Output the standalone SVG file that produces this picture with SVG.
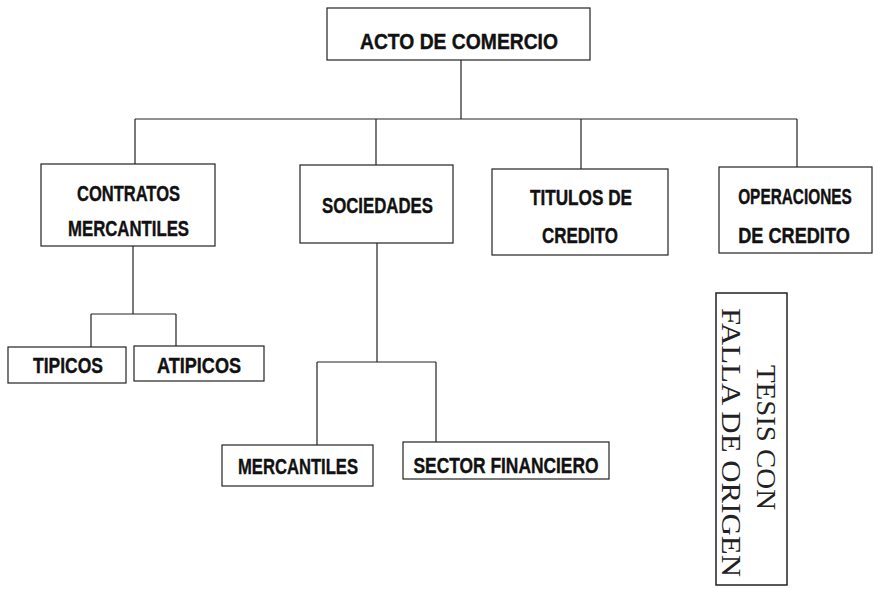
<svg xmlns="http://www.w3.org/2000/svg" width="877" height="589" viewBox="0 0 877 589">
<style>
.box{fill:#fff;stroke:#222;stroke-width:1.2}
.lbl{font-family:"Liberation Sans",Arial,sans-serif;font-weight:bold;font-size:22px;fill:#111;stroke:#111;stroke-width:0.4;text-anchor:middle}
.conn{fill:none;stroke:#222;stroke-width:1.2}
.stamp{font-family:"Liberation Serif","Times New Roman",serif;font-size:28px;fill:#222;text-anchor:middle}
</style>
<rect width="877" height="589" fill="#fff"/>
<g id="connectors">
<path class="conn" d="M461 60V119M135 119H797M135 119V164M376 119V165M581 119V169M797 119V167"/>
<path class="conn" d="M133 246V314M91 314H176M91 314V347M176 314V346"/>
<path class="conn" d="M377 243V362M317 362H436M317 362V445M436 362V442"/>
</g>
<g id="acto">
<rect class="box" x="327" y="8" width="263" height="52"/>
<text class="lbl" x="459" y="49" font-size="28" textLength="198" lengthAdjust="spacingAndGlyphs">ACTO DE COMERCIO</text>
</g>
<g id="contratos">
<rect class="box" x="41" y="164" width="174" height="82"/>
<text class="lbl" x="128.5" y="201" textLength="103" lengthAdjust="spacingAndGlyphs">CONTRATOS</text>
<text class="lbl" x="128.5" y="236" textLength="121" lengthAdjust="spacingAndGlyphs">MERCANTILES</text>
</g>
<g id="sociedades">
<rect class="box" x="300" y="165" width="153" height="78"/>
<text class="lbl" x="377.5" y="213" textLength="111" lengthAdjust="spacingAndGlyphs">SOCIEDADES</text>
</g>
<g id="titulos">
<rect class="box" x="492" y="169" width="176" height="86"/>
<text class="lbl" x="581" y="205" textLength="102" lengthAdjust="spacingAndGlyphs">TITULOS DE</text>
<text class="lbl" x="580" y="243" textLength="76" lengthAdjust="spacingAndGlyphs">CREDITO</text>
</g>
<g id="operaciones">
<rect class="box" x="719" y="167" width="153" height="86"/>
<text class="lbl" transform="translate(795 204) scale(0.7 1)">OPERACIONES</text>
<text class="lbl" transform="translate(794 243) scale(0.825 1)">DE CREDITO</text>
</g>
<g id="tipicos">
<rect class="box" x="8" y="347" width="118" height="36"/>
<text class="lbl" x="68" y="373" textLength="70" lengthAdjust="spacingAndGlyphs">TIPICOS</text>
</g>
<g id="atipicos">
<rect class="box" x="134" y="346" width="130" height="35"/>
<text class="lbl" x="199" y="373" textLength="84" lengthAdjust="spacingAndGlyphs">ATIPICOS</text>
</g>
<g id="mercantiles">
<rect class="box" x="222" y="445" width="151" height="41"/>
<text class="lbl" x="298" y="474" textLength="120" lengthAdjust="spacingAndGlyphs">MERCANTILES</text>
</g>
<g id="sector">
<rect class="box" x="403" y="442" width="206" height="37"/>
<text class="lbl" x="506" y="473" textLength="185" lengthAdjust="spacingAndGlyphs">SECTOR FINANCIERO</text>
</g>
<g id="stamp">
<rect x="716" y="293" width="71" height="292" fill="none" stroke="#222" stroke-width="1.5"/>
<text class="stamp" transform="translate(757 437.5) rotate(90)" textLength="145" lengthAdjust="spacingAndGlyphs">TESIS CON</text>
<text class="stamp" transform="translate(722 442.5) rotate(90)" textLength="269" lengthAdjust="spacingAndGlyphs">FALLA DE ORIGEN</text>
</g>
</svg>
